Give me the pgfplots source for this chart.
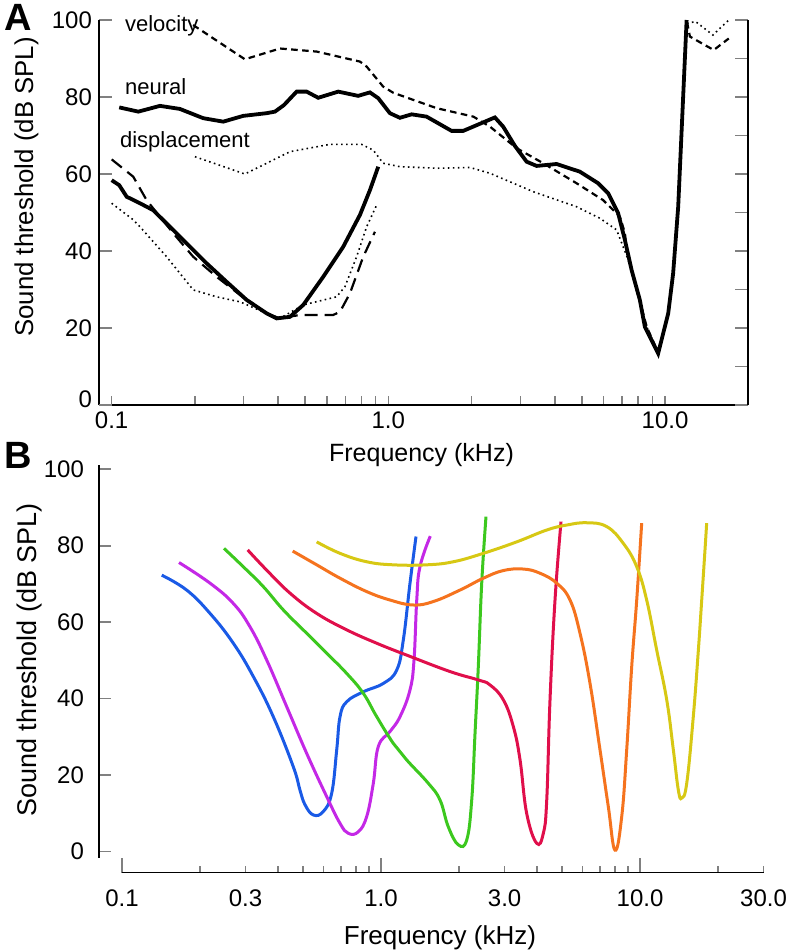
\documentclass[border=0pt]{standalone}
\usepackage{pgfplots}
\pgfplotsset{compat=1.18}
\usepackage{fontspec}
\setmainfont{Liberation Sans}

\definecolor{cblue}{RGB}{26,90,230}
\definecolor{cmag}{RGB}{196,40,230}
\definecolor{cgreen}{RGB}{60,200,30}
\definecolor{cred}{RGB}{224,15,75}
\definecolor{corange}{RGB}{245,115,30}
\definecolor{cyellow}{RGB}{215,200,20}

\tikzset{
  velo/.style={black, line width=1.1pt, dash pattern=on 3.3pt off 2.2pt},
  disp/.style={black, line width=0.8pt, dash pattern=on 0.8pt off 1.7pt},
  longdash/.style={black, line width=1.1pt, dash pattern=on 6.5pt off 3.5pt},
  tuning/.style={line width=1.5pt, smooth, tension=0.7},
}

\begin{document}
\begin{tikzpicture}
\path[use as bounding box] (0,0) rectangle (400pt,-475pt);

% ---------- panel A ----------
\begin{axis}[scale only axis, anchor=south west, at={(49.5pt,-202.5pt)},
  width=324.65pt, height=192.5pt,
  xmode=log, xmin=0.09, xmax=20, ymin=0, ymax=100, clip=false,
  axis x line*=bottom, axis y line*=left,
  axis line style={-, line width=0.9pt},
  tick align=inside, tick style={line width=0.8pt},
  /pgf/number format/assume math mode=true,
  ticklabel style={font=\fontsize{12}{14}\selectfont},
  xtick={0.1,1,10}, xticklabels={0.1,1.0,10.0},
  major x tick style={draw=none},
  minor xtick={0.1,0.2,0.3,0.4,0.5,0.6,0.7,0.8,0.9,1,2,3,4,5,6,7,8,9,10},
  minor tick length=4.5pt, major tick length=6.5pt,
  ytick={20,40,60,80,100},
  extra y ticks={0}, extra y tick style={yticklabel style={yshift=3pt}}]
% velocity
\addplot[velo] coordinates {
(0.197,98.7) (0.303,89.8) (0.406,92.6) (0.551,91.8) (0.790,89.2) (0.835,87.9)
(0.958,82.7) (1.042,81.1) (1.495,77.1) (2.03,74.9) (2.33,72.3) (2.91,66.7)
(3.63,62.8) (4.79,57.6) (5.98,53.2) (6.87,48.9) (7.16,44.7) (7.27,40.3)
(7.79,31.6) (8.59,20.3) (9.2,15.5) (9.445,13.4) (10.27,23.8) (10.7,34.2)
(11.16,51.5) (11.97,100) (12.3,95.7) (15.0,92.2) (17.0,95.2)};
% displacement
\addplot[disp] coordinates {
(0.2,64.5) (0.303,60.0) (0.3633,62.8) (0.441,65.8) (0.615,67.7) (0.801,67.7)
(0.882,66.2) (0.958,62.8) (1.101,61.9) (1.495,61.5) (1.972,61.7) (2.329,60.2)
(3.341,55.4) (4.79,51.5) (5.817,48.5) (6.683,45.5) (7.06,41.1) (7.36,37.7)
(7.79,31.2) (8.59,20.3) (9.2,15.5) (9.445,13.4) (10.27,23.8) (10.7,34.2)
(11.16,51.5) (11.97,99.1) (12.9,99.6) (14.9,96.1) (17.0,100)};
% neural
\addplot[black, line width=1.9pt] coordinates {
(0.1065,77.3) (0.1248,76.2) (0.1495,77.7) (0.1765,76.9) (0.2143,74.5)
(0.2531,73.6) (0.2989,75.1) (0.3633,75.8) (0.3892,76.2) (0.4195,77.9)
(0.4662,81.4) (0.5066,81.4) (0.558,79.8) (0.659,81.4) (0.778,80.3)
(0.858,81.2) (0.9194,79.7) (1.013,75.8) (1.101,74.6) (1.214,75.5)
(1.375,74.9) (1.693,71.2) (1.865,71.2) (2.427,74.7) (2.601,72.3)
(2.867,67.3) (3.161,63.2) (3.435,62.1) (4.056,62.6) (4.925,60.6)
(5.734,57.6) (6.232,55.0) (6.771,49.8) (7.161,42.9) (7.57,35.1)
(8.11,27.3) (8.457,20.3) (8.816,17.7) (9.445,13.4) (10.27,23.8)
(10.7,34.2) (11.16,51.5) (11.97,100)};
% low-frequency curves
\addplot[disp] coordinates {
(0.1,52.4) (0.1197,48.1) (0.1266,46.3) (0.158,38.5) (0.1972,29.9)
(0.2395,28.1) (0.2909,26.8) (0.3633,23.8) (0.4056,22.5) (0.4927,26.0)
(0.65,28.1) (0.6966,30.7) (0.768,38.5) (0.835,46.3) (0.907,51.9)};
\addplot[longdash] coordinates {
(0.1,63.8) (0.1197,59.3) (0.1338,53.2) (0.167,44.6) (0.1972,38.5)
(0.2395,33.3) (0.2909,28.6) (0.3633,23.8) (0.4056,22.5) (0.479,23.4)
(0.6325,23.4) (0.6686,24.2) (0.7266,29.0) (0.8114,38.5) (0.8946,45.0)};
\addplot[black, line width=1.9pt] coordinates {
(0.1,58.4) (0.1065,57.1) (0.1133,54.1) (0.1266,52.4) (0.1413,50.6)
(0.1624,46.3) (0.1866,42.0) (0.2204,36.8) (0.2603,32.0) (0.3075,27.3)
(0.3633,23.8) (0.3947,22.5) (0.441,22.9) (0.4927,26.0) (0.5816,33.3)
(0.687,41.1) (0.79,49.4) (0.858,55.8) (0.9194,61.9)};
\end{axis}
% right-hand axis of panel A
\begin{axis}[scale only axis, anchor=south west, at={(49.5pt,-202.5pt)},
  width=324.65pt, height=192.5pt,
  xmode=log, xmin=0.09, xmax=20, ymin=0, ymax=100,
  axis y line*=right, axis x line=none,
  axis line style={-, line width=0.9pt},
  tick align=inside, tick style={line width=0.8pt},
  ytick={0,10,20,30,40,50,60,70,80,90,100}, yticklabel=\empty,
  major tick length=6.5pt]
\end{axis}

\node[anchor=base west, font=\fontsize{11}{13}\selectfont] at (59pt,-15.5pt) {velocity};
\node[anchor=base west, font=\fontsize{11}{13}\selectfont] at (59pt,-47pt) {neural};
\node[anchor=base west, font=\fontsize{11}{13}\selectfont] at (56.5pt,-73.5pt) {displacement};
\node[anchor=base, font=\fontsize{12.5}{15}\selectfont] at (210.75pt,-230.5pt) {Frequency (kHz)};
\node[anchor=base, rotate=90, font=\fontsize{12.9}{15}\selectfont] at (16.5pt,-93.5pt) {Sound threshold (dB SPL)};
\node[anchor=base west, inner sep=0pt, font=\fontsize{19}{22}\selectfont\bfseries] at (2pt,-15pt) {A};

% ---------- panel B ----------
\begin{axis}[scale only axis, anchor=south west, at={(49.5pt,-428.9pt)},
  width=332.3pt, height=196.6pt,
  xmode=log, xmin=0.0815, xmax=30, ymin=-1.6, ymax=101.2,
  axis y line*=left, axis x line=none,
  axis line style={-, line width=0.9pt},
  tick align=inside, tick style={line width=0.8pt},
  /pgf/number format/assume math mode=true,
  ticklabel style={font=\fontsize{12}{14}\selectfont},
  ytick={0,20,40,60,80,100}, major tick length=6pt,
  yticklabel style={xshift=-4pt}]
\addplot[tuning, cblue] coordinates {
(0.1423,72.3) (0.1777,68.4) (0.2187,62.3) (0.269,54.5) (0.3213,45.8)
(0.3838,35.3) (0.4585,22.2) (0.487,16.0) (0.5087,12.3) (0.5477,9.6) (0.5987,10.5)
(0.6452,15.3) (0.6745,26.6) (0.6947,35.3) (0.7374,39.2) (0.8545,41.8)
(1.021,44.0) (1.15,47.5) (1.219,55.3) (1.294,70.2) (1.365,82.4)};
\addplot[tuning, cmag] coordinates {
(0.166,75.6) (0.2187,70.2) (0.269,64.9) (0.312,58.8) (0.362,50.1)
(0.4325,37.9) (0.5165,25.7) (0.617,14.4) (0.6947,7.4) (0.7478,4.8)
(0.8172,5.2) (0.8806,9.2) (0.9339,17.9) (0.9763,27.5) (1.083,31.4)
(1.184,35.3) (1.294,42.3) (1.341,50.1) (1.374,65.8) (1.414,74.5) (1.55,82.5)};
\addplot[tuning, cgreen] coordinates {
(0.2476,79.3) (0.2939,74.5) (0.3512,69.3) (0.4196,63.2) (0.5165,57.1)
(0.617,51.9) (0.7374,46.6) (0.8545,41.4) (0.9625,35.3) (1.116,28.3)
(1.256,24.0) (1.522,17.9) (1.69,13.5) (1.819,6.5) (1.988,1.8) (2.143,3.1)
(2.24,13.5) (2.307,31.0) (2.375,48.4) (2.448,70.2) (2.543,87.6)};
\addplot[tuning, cred] coordinates {
(0.3056,78.9) (0.362,73.6) (0.4452,67.6) (0.5645,62.3) (0.7374,58.0)
(0.9625,54.5) (1.256,51.4) (1.847,47.1) (2.375,44.9) (2.635,43.6)
(2.967,39.7) (3.243,32.7) (3.442,24.0) (3.652,10.0) (3.992,2.2) (4.233,4.8)
(4.364,13.5) (4.493,39.7) (4.697,65.8) (4.955,86.3)};
\addplot[tuning, corange] coordinates {
(0.456,78.6) (0.5645,75.0) (0.6947,71.5) (0.8806,68.0) (1.083,65.8)
(1.329,64.5) (1.592,65.4) (2.018,68.4) (2.483,71.5) (2.967,73.5)
(3.543,73.9) (4.111,72.8) (4.769,70.2) (5.367,65.8) (5.866,57.1)
(6.412,44.0) (7.009,26.6) (7.544,11.8) (8.008,0.4) (8.5,9.2) (8.884,26.6)
(9.289,48.4) (9.712,65.8) (10.15,85.9)};
\addplot[tuning, cyellow] coordinates {
(0.5645,81.0) (0.6947,78.0) (0.8806,75.8) (1.116,75.0) (1.501,75.0)
(1.902,75.8) (2.483,78.0) (3.342,81.0) (4.364,84.1) (5.212,85.4)
(6.227,86.0) (7.436,85.0) (8.622,80.6) (9.712,74.5) (10.61,65.8)
(11.6,52.7) (12.68,39.7) (13.45,26.6) (14.06,16.1) (14.49,14.0)
(15.15,17.9) (16.06,35.3) (16.8,52.7) (17.31,65.8) (17.82,78.9) (18.09,85.9)};
\end{axis}
% detached frequency axis of panel B
\begin{axis}[scale only axis, anchor=south west, at={(61pt,-436.35pt)},
  width=320.8pt, height=20pt,
  xmode=log, xmin=0.1, xmax=30, ymin=0, ymax=1,
  axis x line*=bottom, axis y line=none,
  axis line style={-, line width=0.7pt},
  tick align=inside, tick style={line width=0.8pt},
  ticklabel style={font=\fontsize{12}{14}\selectfont},
  xtick={0.1,1,10}, xticklabel=\empty, major tick length=7.5pt,
  minor xtick={0.2,0.3,0.4,0.5,0.6,0.7,0.8,0.9,2,3,4,5,6,7,8,9,20,30},
  minor tick length=3.3pt,
  extra x ticks={0.1,0.3,1,3,10,30},
  extra x tick labels={0.1,0.3,1.0,3.0,10.0,30.0},
  extra x tick style={major tick length=0pt},
  xticklabel style={yshift=-5pt}]
\end{axis}

\node[anchor=base, font=\fontsize{13}{15}\selectfont] at (220pt,-472pt) {Frequency (kHz)};
\node[anchor=base, rotate=90, font=\fontsize{13.5}{16}\selectfont] at (18.5pt,-330pt) {Sound threshold (dB SPL)};
\node[anchor=base west, inner sep=0pt, font=\fontsize{19}{22}\selectfont\bfseries] at (2pt,-234pt) {B};
\end{tikzpicture}
\end{document}
